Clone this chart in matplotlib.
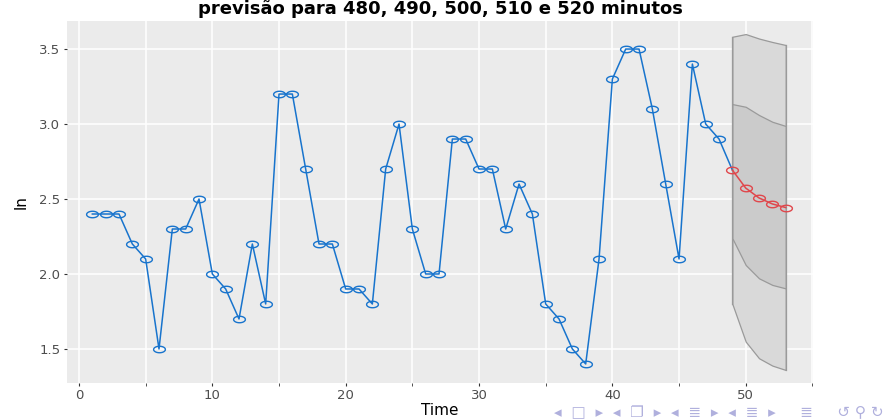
import matplotlib
matplotlib.use("Agg")
import matplotlib.pyplot as plt
import numpy as np
from matplotlib.path import Path
from matplotlib.markers import MarkerStyle

plt.rcParams['font.family'] = ['DejaVu Sans']

# observed series (ln), t = 1..48
obs = [2.4, 2.4, 2.4, 2.2, 2.1, 1.5, 2.3, 2.3, 2.5, 2.0,
       1.9, 1.7, 2.2, 1.8, 3.2, 3.2, 2.7, 2.2, 2.2, 1.9,
       1.9, 1.8, 2.7, 3.0, 2.3, 2.0, 2.0, 2.9, 2.9, 2.7,
       2.7, 2.3, 2.6, 2.4, 1.8, 1.7, 1.5, 1.4, 2.1, 3.3,
       3.5, 3.5, 3.1, 2.6, 2.1, 3.4, 3.0, 2.9]
t_obs = np.arange(1, len(obs) + 1)

# forecast, t = 49..53
t_fc = [49, 50, 51, 52, 53]
fc = [2.693, 2.573, 2.507, 2.467, 2.443]
lo80 = [2.238, 2.06, 1.971, 1.927, 1.904]
hi80 = [3.133, 3.115, 3.06, 3.015, 2.987]
lo95 = [1.80, 1.549, 1.438, 1.389, 1.36]
hi95 = [3.582, 3.60, 3.57, 3.547, 3.527]

blue = "#1874CD"
red = "#E0474C"

# flattened circle marker (the slide was stretched horizontally)
th = np.linspace(0, 2 * np.pi, 40)
ell = MarkerStyle(Path(np.column_stack([np.cos(th), 0.55 * np.sin(th)])))

fig = plt.figure(figsize=(8.85, 4.2), dpi=100)
ax = fig.add_axes([0.0754, 0.0888, 0.9190 - 0.0754, 0.9507 - 0.0888])
ax.set_facecolor("#EBEBEB")

ax.fill_between(t_fc, lo95, hi95, facecolor="#D9D9D9", edgecolor="#9A9A9A", lw=0.9, zorder=2)
ax.fill_between(t_fc, lo80, hi80, facecolor="#CBCBCB", edgecolor="#9A9A9A", lw=0.9, zorder=2)
ax.plot([t_fc[0], t_fc[0]], [lo95[0], hi95[0]], color="#9A9A9A", lw=0.9, zorder=2)
ax.plot([t_fc[-1], t_fc[-1]], [lo95[-1], hi95[-1]], color="#9A9A9A", lw=0.9, zorder=2)

ax.plot(list(t_obs) + [t_fc[0]], obs + [fc[0]], color=blue, lw=1.1, zorder=3,
        marker=ell, markersize=8.5, markevery=list(range(len(obs))),
        markerfacecolor="none", markeredgecolor=blue, markeredgewidth=1.0)
ax.plot(t_fc, fc, color=red, lw=1.1, zorder=4,
        marker=ell, markersize=8.5, markerfacecolor="none",
        markeredgecolor=red, markeredgewidth=1.0)

ax.set_xlim(-0.92, 55.07)
ax.set_ylim(1.275, 3.689)
ax.set_xticks([0, 10, 20, 30, 40, 50])
ax.set_xticks([5, 15, 25, 35, 45, 55], minor=True)
ax.set_yticks([1.5, 2.0, 2.5, 3.0, 3.5])
ax.grid(True, which="both", axis="x", color="white", lw=1.1)
ax.grid(True, which="major", axis="y", color="white", lw=1.1)
ax.set_axisbelow(True)
for s in ax.spines.values():
    s.set_visible(False)
ax.tick_params(axis="both", which="major", length=2.5, color="#333333",
               labelsize=9.5, labelcolor="#4D4D4D", pad=2)
ax.tick_params(axis="x", which="minor", length=2, color="#333333")

ax.set_xlabel("Time", fontsize=11, labelpad=1)
ax.set_ylabel("ln", fontsize=11, labelpad=8)
ax.set_title("previsão para 480, 490, 500, 510 e 520 minutos",
             fontsize=13, fontweight="bold", pad=5)

# beamer navigation symbols
fig.text(0.998, 0.017, "◂  □  ▸  ◂  ❐  ▸  ◂  ≣  ▸  ◂  ≣  ▸     ≣     ↺ ⚲ ↻",
         ha="right", va="center", fontsize=11, color="#B0B0DD",
         family=['DejaVu Sans', 'Noto Sans'])

fig.savefig("out.png", dpi=100)
